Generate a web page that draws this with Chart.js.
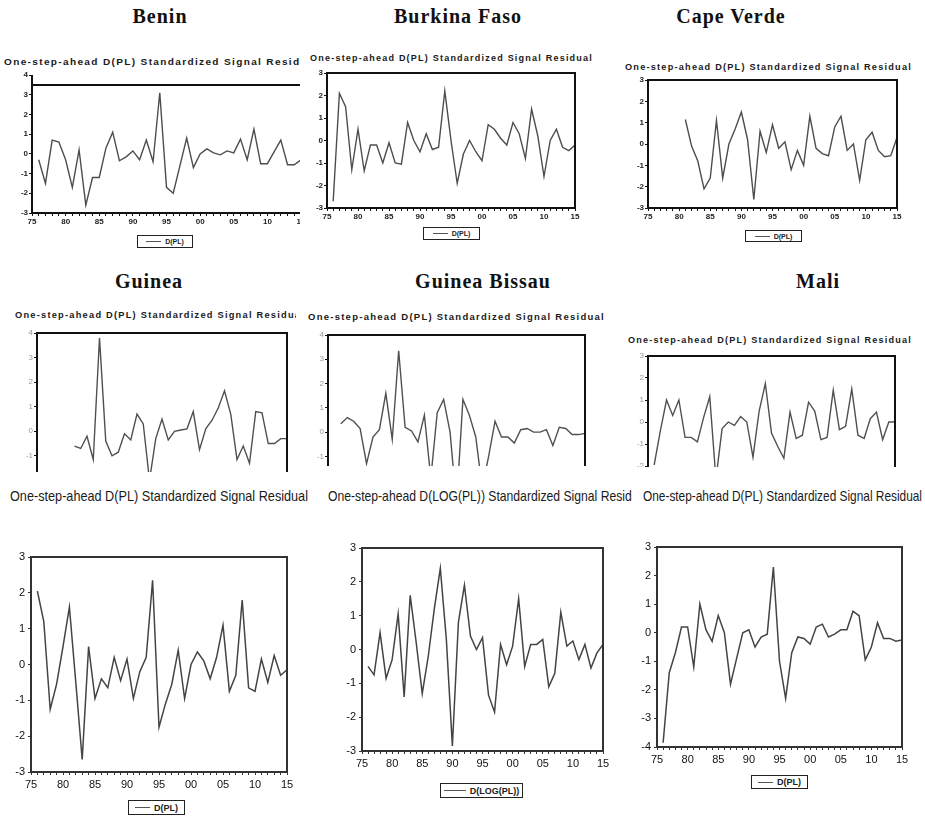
<!DOCTYPE html>
<html>
<head>
<meta charset="utf-8">
<script src="https://cdn.jsdelivr.net/npm/chart.js@4.4.0/dist/chart.umd.min.js"></script>
<style>
  html, body { margin: 0; padding: 0; background: #fff; }
  #page { position: relative; width: 925px; height: 827px; overflow: hidden; background: #fff; }
  .panel { position: absolute; overflow: hidden; }
  .panel canvas { position: absolute; z-index: 2; }
  .frame { position: absolute; box-sizing: border-box; border-style: solid; z-index: 3; }
  .stub { position: absolute; z-index: 3; }
  .title { position: absolute; font: bold 20px "Liberation Serif", serif; letter-spacing: 1px; color: #111;
           white-space: nowrap; line-height: 20px; transform: translateX(-50%); z-index: 1; }
  .sub { position: absolute; white-space: nowrap; transform-origin: 0 50%; color: #1a1a1a;
         font-family: "Liberation Sans", sans-serif; z-index: 1; }
  .legend { position: absolute; border: 1.5px solid #222; box-sizing: border-box; display: flex;
            align-items: center; justify-content: center; gap: 4px; font-family: "Liberation Sans", sans-serif;
            font-weight: bold; color: #222; z-index: 1; }
  .legend i { display: inline-block; border-top: 1.5px solid #555; }
</style>
</head>
<body>
<div id="page"></div>
<script>
// years on the x axis
const years = [1976, 1977, 1978, 1979, 1980, 1981, 1982, 1983, 1984, 1985,
               1986, 1987, 1988, 1989, 1990, 1991, 1992, 1993, 1994, 1995,
               1996, 1997, 1998, 1999, 2000, 2001, 2002, 2003, 2004, 2005,
               2006, 2007, 2008, 2009, 2010, 2011, 2012, 2013, 2014, 2015];

// standardized signal residuals, one array per panel (null = no observation)
const benin = [-0.3, -1.5, 0.7, 0.6, -0.3, -1.7, 0.2, -2.6, -1.2, -1.2,
               0.3, 1.1, -0.35, -0.15, 0.15, -0.3, 0.7, -0.4, 3.1, -1.7,
               -2.0, -0.6, 0.8, -0.7, 0.0, 0.25, 0.05, -0.05, 0.15, 0.05,
               0.75, -0.3, 1.25, -0.5, -0.5, 0.1, 0.7, -0.55, -0.55, -0.3];
const burkinaFaso = [-2.7, 2.1, 1.5, -1.3, 0.5, -1.35, -0.2, -0.2, -1.0, -0.1,
                     -1.0, -1.05, 0.8, 0.0, -0.5, 0.3, -0.4, -0.3, 2.2, 0.0,
                     -1.9, -0.6, 0.0, -0.5, -0.9, 0.7, 0.5, 0.1, -0.2, 0.8,
                     0.3, -0.8, 1.4, 0.2, -1.6, 0.0, 0.5, -0.3, -0.45, -0.2];
const capeVerde = [null, null, null, null, null, 1.15, -0.1, -0.8, -2.1, -1.6,
                   1.1, -1.6, 0.0, 0.7, 1.5, 0.2, -2.6, 0.6, -0.4, 0.9,
                   -0.2, 0.1, -1.2, -0.3, -1.0, 1.3, -0.2, -0.45, -0.55, 0.8,
                   1.3, -0.3, 0.0, -1.7, 0.2, 0.55, -0.3, -0.6, -0.55, 0.3];
const guinea = [null, null, null, null, null, -0.6, -0.7, -0.2, -1.15, 3.8,
                -0.4, -1.0, -0.85, -0.1, -0.35, 0.7, 0.3, -2.0, -0.3, 0.5,
                -0.35, 0.0, 0.05, 0.1, 0.8, -0.75, 0.1, 0.45, 0.95, 1.65,
                0.7, -1.15, -0.6, -1.3, 0.8, 0.75, -0.5, -0.5, -0.3, -0.3];
const guineaBissau = [null, 0.35, 0.6, 0.45, 0.15, -1.3, -0.2, 0.1, 1.6, -0.3,
                      3.35, 0.2, 0.05, -0.4, 0.7, -1.9, 0.8, 1.35, 0.0, -3.0,
                      1.35, 0.7, -0.2, -2.3, -1.0, 0.45, -0.2, -0.2, -0.45, 0.1,
                      0.15, 0.0, 0.0, 0.1, -0.55, 0.2, 0.15, -0.1, -0.1, -0.05];
const mali = [-1.95, -0.4, 1.0, 0.3, 1.0, -0.7, -0.7, -0.9, 0.2, 1.15,
              -2.6, -0.3, 0.0, -0.15, 0.25, 0.0, -1.6, 0.5, 1.75, -0.5,
              -1.1, -1.65, 0.45, -0.75, -0.6, 0.9, 0.5, -0.8, -0.7, 1.45,
              -0.35, -0.2, 1.5, -0.6, -0.75, 0.15, 0.45, -0.8, 0.0, 0.0];
const lowerLeft = [2.05, 1.2, -1.25, -0.55, 0.5, 1.6, -0.5, -2.65, 0.5, -0.95,
                   -0.4, -0.65, 0.2, -0.45, 0.15, -0.95, -0.2, 0.2, 2.35, -1.75,
                   -1.1, -0.55, 0.4, -0.95, 0.0, 0.35, 0.1, -0.4, 0.2, 1.1,
                   -0.75, -0.3, 1.8, -0.65, -0.75, 0.15, -0.5, 0.25, -0.3, -0.15];
const lowerMiddle = [-0.5, -0.75, 0.5, -0.85, -0.3, 1.05, -1.4, 1.6, 0.2, -1.3,
                     -0.2, 1.2, 2.4, 0.3, -2.85, 0.8, 1.9, 0.4, 0.0, 0.35,
                     -1.35, -1.85, 0.15, -0.45, 0.1, 1.5, -0.5, 0.15, 0.15, 0.3,
                     -1.1, -0.7, 1.1, 0.1, 0.25, -0.3, 0.15, -0.55, -0.1, 0.15];
const lowerRight = [-3.85, -1.4, -0.7, 0.2, 0.2, -1.2, 1.0, 0.1, -0.3, 0.6,
                    0.0, -1.8, -0.9, 0.0, 0.1, -0.5, -0.15, -0.05, 2.3, -1.0,
                    -2.3, -0.7, -0.15, -0.2, -0.4, 0.2, 0.3, -0.15, -0.05, 0.1,
                    0.1, 0.75, 0.6, -0.95, -0.5, 0.35, -0.2, -0.2, -0.3, -0.25];

const subPL = 'One-step-ahead D(PL) Standardized Signal Residual';
const subLog = 'One-step-ahead D(LOG(PL)) Standardized Signal Residual';

// look of the three rows
const styles = {
  top:    { pl: 26, pt: 8,  pr: 12, pb: 18, font: { size: 8, weight: 'bold' }, tickColor: '#222',
            line: '#4d4d4d', lineW: 1.4, frame: '#111', frameW: 2, tickLen: 3, tickPad: 1,
            legendFont: 7, sub: { size: 9, weight: 'bold', spacing: 1.2 } },
  middle: { pl: 26, pt: 8,  pr: 12, pb: 18, font: { size: 8 }, tickColor: '#999',
            line: '#505050', lineW: 1.4, frame: '#111', frameW: 2, tickLen: 3, tickPad: 1,
            legendFont: 7, sub: { size: 9, weight: 'bold', spacing: 1.2 } },
  bottom: { pl: 32, pt: 10, pr: 14, pb: 22, font: { size: 11 }, tickColor: '#111',
            line: '#444', lineW: 1.5, frame: '#333', frameW: 2, tickLen: 3, tickPad: 3,
            legendFont: 9, sub: { size: 15, weight: 'normal', spacing: 0 } }
};

// panel layout: clip = [x, y, w, h], box = [left, top, right, bottom] of plot frame
const panels = [
  { values: benin, style: 'top', clip: [0, 0, 300, 262], box: [32, 75, 301, 213], yMin: -3, yMax: 4, frameTop: 3.5,
    title: ['Benin', 160, 6], sub: [subPL, 4, 62, 315], legend: ['D(PL)', 137, 235, 56, 13] },
  { values: burkinaFaso, style: 'top', clip: [303, 0, 312, 262], box: [327, 73, 575, 208], yMin: -3, yMax: 3,
    title: ['Burkina Faso', 458, 6], sub: [subPL, 310, 58, 283], legend: ['D(PL)', 423, 227, 57, 13] },
  { values: capeVerde, style: 'top', clip: [615, 0, 310, 262], box: [648, 80, 897, 208], yMin: -3, yMax: 3,
    title: ['Cape Verde', 731, 6], sub: [subPL, 625, 67, 287], legend: ['D(PL)', 745, 230, 57, 12] },
  { values: guinea, style: 'middle', clip: [0, 262, 296, 210], box: [37, 333, 287, 505], yMin: -3, yMax: 4,
    title: ['Guinea', 149, 271], sub: [subPL, 15, 315, 290] },
  { values: guineaBissau, style: 'middle', clip: [300, 262, 315, 204], box: [328, 335, 585, 505], yMin: -3, yMax: 4,
    title: ['Guinea Bissau', 483, 271], sub: [subPL, 308, 317, 297] },
  { values: mali, style: 'middle', clip: [615, 262, 310, 205], box: [648, 356, 895, 488], yMin: -3, yMax: 3,
    title: ['Mali', 818, 271], sub: [subPL, 628, 340, 284] },
  { values: lowerLeft, style: 'bottom', clip: [0, 478, 312, 349], box: [31, 557, 287, 772], yMin: -3, yMax: 3,
    sub: [subPL, 10, 495, 298], legend: ['D(PL)', 128, 800, 57, 15] },
  { values: lowerMiddle, style: 'bottom', clip: [318, 478, 314, 349], box: [362, 548, 603, 751], yMin: -3, yMax: 3,
    sub: [subLog, 328, 495, 320], legend: ['D(LOG(PL))', 440, 783, 83, 15] },
  { values: lowerRight, style: 'bottom', clip: [636, 478, 289, 349], box: [657, 547, 902, 747], yMin: -4, yMax: 3,
    sub: [subPL, 643, 495, 279], legend: ['D(PL)', 751, 775, 57, 14] }
];

Chart.defaults.font.family = '"Liberation Sans", Arial, sans-serif';

const page = document.getElementById('page');

function addPanel(p) {
  const st = styles[p.style];
  const [cx, cy, cw, ch] = p.clip;
  const wrap = document.createElement('div');
  wrap.className = 'panel';
  wrap.style.left = cx + 'px';
  wrap.style.top = cy + 'px';
  wrap.style.width = cw + 'px';
  wrap.style.height = ch + 'px';
  page.appendChild(wrap);

  const [L, T, R, B] = p.box;
  const ox = L - st.pl - cx, oy = T - st.pt - cy;   // canvas offset inside the panel
  const canvas = document.createElement('canvas');
  canvas.width = st.pl + (R - L) + st.pr;
  canvas.height = st.pt + (B - T) + st.pb;
  canvas.style.left = ox + 'px';
  canvas.style.top = oy + 'px';
  wrap.appendChild(canvas);

  if (p.title) {
    const t = document.createElement('div');
    t.className = 'title';
    t.textContent = p.title[0];
    t.style.left = (p.title[1] - cx) + 'px';
    t.style.top = (p.title[2] - cy) + 'px';
    wrap.appendChild(t);
  }

  // subtitle, stretched to the width it has in the picture
  const s = document.createElement('div');
  s.className = 'sub';
  s.textContent = p.sub[0];
  s.style.fontSize = st.sub.size + 'px';
  s.style.fontWeight = st.sub.weight;
  s.style.letterSpacing = st.sub.spacing + 'px';
  s.style.lineHeight = st.sub.size + 'px';
  s.style.left = (p.sub[1] - cx) + 'px';
  s.style.top = (p.sub[2] - st.sub.size / 2 - cy) + 'px';
  wrap.appendChild(s);
  const natural = s.getBoundingClientRect().width;
  if (natural > 0) s.style.transform = `scaleX(${p.sub[3] / natural})`;

  if (p.legend) {
    const [txt, lx, ly, lw, lh] = p.legend;
    const lg = document.createElement('div');
    lg.className = 'legend';
    lg.style.left = (lx - cx) + 'px';
    lg.style.top = (ly - cy) + 'px';
    lg.style.width = lw + 'px';
    lg.style.height = lh + 'px';
    lg.style.fontSize = st.legendFont + 'px';
    lg.innerHTML = `<i style="width:${Math.round(lw * 0.27)}px"></i><span></span>`;
    lg.querySelector('span').textContent = txt;
    wrap.appendChild(lg);
  }

  const chart = new Chart(canvas, {
    type: 'line',
    data: {
      datasets: [{
        data: years.map((yr, i) => ({ x: yr, y: p.values[i] })),
        borderColor: st.line,
        borderWidth: st.lineW,
        pointRadius: 0,
        tension: 0,
        fill: false
      }]
    },
    options: {
      responsive: false,
      devicePixelRatio: 1,
      animation: false,
      events: [],
      layout: { padding: { left: 0, top: st.pt, right: st.pr, bottom: 0 } },
      scales: {
        x: {
          type: 'linear', min: 1975, max: 2015,
          ticks: {
            stepSize: 1, autoSkip: false, maxRotation: 0, padding: st.tickPad,
            font: st.font, color: st.tickColor,
            callback: v => (v % 5 === 0 ? String(v).slice(2) : '')
          },
          grid: { drawOnChartArea: false, tickLength: st.tickLen, color: st.frame },
          border: { display: false },
          afterFit(scale) { scale.height = st.pb; scale.paddingLeft = 0; scale.paddingRight = 0; }
        },
        y: {
          min: p.yMin, max: p.yMax,
          ticks: { stepSize: 1, padding: st.tickPad, font: st.font, color: st.tickColor, callback: v => String(v) },
          grid: { drawOnChartArea: false, tickLength: st.tickLen, color: st.frame },
          border: { display: false },
          afterFit(scale) { scale.width = st.pl; scale.paddingTop = 0; scale.paddingBottom = 0; }
        }
      },
      plugins: {
        legend: { display: false },
        tooltip: { enabled: false }
      }
    }
  });

  // EViews-style box round the plot area, placed from the chart's own layout
  const a = chart.chartArea;
  const h = st.frameW / 2;
  const top = p.frameTop != null ? chart.scales.y.getPixelForValue(p.frameTop) : a.top;
  const f = document.createElement('div');
  f.className = 'frame';
  f.style.borderColor = st.frame;
  f.style.borderWidth = st.frameW + 'px';
  f.style.left = (ox + a.left - h) + 'px';
  f.style.top = (oy + top - h) + 'px';
  f.style.width = (a.right - a.left + st.frameW) + 'px';
  f.style.height = (a.bottom - top + st.frameW) + 'px';
  wrap.appendChild(f);
  if (top > a.top) {
    // left axis carries on up to the top tick
    const stub = document.createElement('div');
    stub.className = 'stub';
    stub.style.background = st.frame;
    stub.style.left = (ox + a.left - h) + 'px';
    stub.style.top = (oy + a.top) + 'px';
    stub.style.width = st.frameW + 'px';
    stub.style.height = (top - a.top) + 'px';
    wrap.appendChild(stub);
  }
}

panels.forEach(addPanel);
</script>
</body>
</html>
